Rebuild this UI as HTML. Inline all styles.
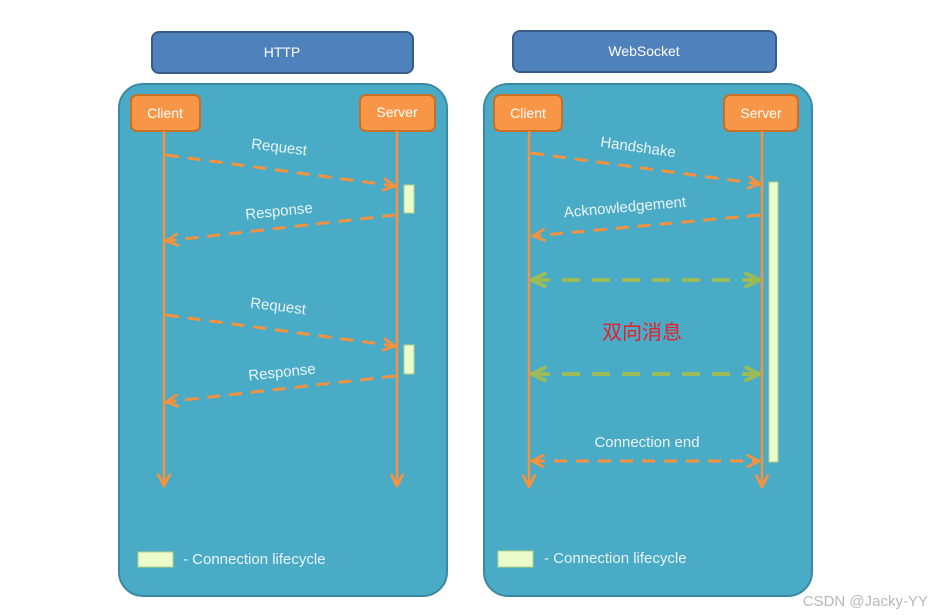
<!DOCTYPE html>
<html><head><meta charset="utf-8"><style>
html,body{margin:0;padding:0;background:#fff;width:931px;height:616px;overflow:hidden}
svg{display:block}
text{font-family:"Liberation Sans","DejaVu Sans",sans-serif}
</style></head><body>
<svg width="931" height="616" viewBox="0 0 931 616" xmlns="http://www.w3.org/2000/svg">
<defs>
<marker id="ao" viewBox="0 0 10 10" refX="9" refY="5" markerWidth="14" markerHeight="14" orient="auto-start-reverse" markerUnits="userSpaceOnUse" style="overflow:visible">
<path d="M1,1 L9,5 L1,9" fill="none" stroke="#f4923f" stroke-width="2" stroke-linecap="round" stroke-linejoin="round"/></marker>
<marker id="ag" viewBox="0 0 10 10" refX="9" refY="5" markerWidth="16" markerHeight="16" orient="auto-start-reverse" markerUnits="userSpaceOnUse" style="overflow:visible">
<path d="M1,1 L9,5 L1,9" fill="none" stroke="#9bbb59" stroke-width="2.4" stroke-linecap="round" stroke-linejoin="round"/></marker>
</defs>
<style>
.o{stroke:#f4923f;stroke-width:3;stroke-dasharray:13 9;fill:none}
.g{stroke:#9bbb59;stroke-width:4;stroke-dasharray:18 12;fill:none}
.l{stroke:#f4923f;stroke-width:2.5;fill:none}
.w{fill:#e8f4f6;font-size:15px}
</style>
<!-- HTTP -->
<rect x="152" y="32" width="261" height="41" rx="7" fill="#4f81bd" stroke="#385d8a" stroke-width="2"/>
<text x="282" y="57" fill="#fff" font-size="14" text-anchor="middle">HTTP</text>
<rect x="119" y="84" width="328" height="512" rx="24" fill="#4aabc6" stroke="#3b8aa3" stroke-width="2"/>
<rect x="131" y="95" width="69" height="36" rx="6" fill="#f79646" stroke="#c96f23" stroke-width="2"/>
<text x="165" y="118" fill="#fff" font-size="14" text-anchor="middle">Client</text>
<rect x="360" y="95" width="75" height="36" rx="6" fill="#f79646" stroke="#c96f23" stroke-width="2"/>
<text x="397" y="117" fill="#fff" font-size="14" text-anchor="middle">Server</text>
<line x1="164" y1="131" x2="164" y2="486" class="l" marker-end="url(#ao)"/>
<line x1="397" y1="131" x2="397" y2="486" class="l" marker-end="url(#ao)"/>
<rect x="404" y="185" width="10" height="28" fill="#ebfbcb" stroke="#b5d08a"/>
<rect x="404" y="345" width="10" height="29" fill="#ebfbcb" stroke="#b5d08a"/>
<line x1="166" y1="155" x2="395" y2="186" class="o" marker-end="url(#ao)"/>
<line x1="395" y1="215" x2="166" y2="241" class="o" marker-end="url(#ao)"/>
<line x1="166" y1="315" x2="395" y2="346" class="o" marker-end="url(#ao)"/>
<line x1="395" y1="376" x2="166" y2="402" class="o" marker-end="url(#ao)"/>
<text class="w" x="279" y="152" text-anchor="middle" transform="rotate(7 279 148)">Request</text>
<text class="w" x="279" y="216" text-anchor="middle" transform="rotate(-6 279 212)">Response</text>
<text class="w" x="278" y="311" text-anchor="middle" transform="rotate(7 278 307)">Request</text>
<text class="w" x="282" y="377" text-anchor="middle" transform="rotate(-6 282 373)">Response</text>
<rect x="138" y="552" width="35" height="15" fill="#ebfbcb" stroke="#b5d08a"/>
<text class="w" x="183" y="564">- Connection lifecycle</text>
<!-- WebSocket -->
<rect x="513" y="31" width="263" height="41" rx="7" fill="#4f81bd" stroke="#385d8a" stroke-width="2"/>
<text x="644" y="56" fill="#fff" font-size="14" text-anchor="middle">WebSocket</text>
<rect x="484" y="84" width="328" height="512" rx="24" fill="#4aabc6" stroke="#3b8aa3" stroke-width="2"/>
<rect x="494" y="95" width="68" height="36" rx="6" fill="#f79646" stroke="#c96f23" stroke-width="2"/>
<text x="528" y="118" fill="#fff" font-size="14" text-anchor="middle">Client</text>
<rect x="724" y="95" width="74" height="36" rx="6" fill="#f79646" stroke="#c96f23" stroke-width="2"/>
<text x="761" y="118" fill="#fff" font-size="14" text-anchor="middle">Server</text>
<line x1="529" y1="131" x2="529" y2="487" class="l" marker-end="url(#ao)"/>
<line x1="762" y1="131" x2="762" y2="487" class="l" marker-end="url(#ao)"/>
<rect x="769" y="182" width="9" height="280" fill="#ebfbcb" stroke="#b5d08a"/>
<line x1="531" y1="153" x2="760" y2="184" class="o" marker-end="url(#ao)"/>
<line x1="760" y1="215" x2="533" y2="236" class="o" marker-end="url(#ao)"/>
<line x1="532" y1="280" x2="759" y2="280" class="g" marker-start="url(#ag)" marker-end="url(#ag)"/>
<line x1="532" y1="374" x2="759" y2="374" class="g" marker-start="url(#ag)" marker-end="url(#ag)"/>
<line x1="532" y1="461" x2="759" y2="461" class="o" marker-start="url(#ao)" marker-end="url(#ao)"/>
<text class="w" x="638" y="152" text-anchor="middle" transform="rotate(8 638 148)">Handshake</text>
<text class="w" x="625" y="212" text-anchor="middle" transform="rotate(-5 625 208)">Acknowledgement</text>
<text x="642" y="339" fill="#e4202c" font-size="20" text-anchor="middle" font-family="'Noto Sans CJK SC',sans-serif">双向消息</text>
<text class="w" x="647" y="447" text-anchor="middle">Connection end</text>
<rect x="498" y="551" width="35" height="16" fill="#ebfbcb" stroke="#b5d08a"/>
<text class="w" x="544" y="563">- Connection lifecycle</text>
<text x="928" y="606" fill="#b8b8b8" font-size="15" text-anchor="end" font-family="'Liberation Sans',sans-serif">CSDN @Jacky-YY</text>
</svg>
</body></html>
